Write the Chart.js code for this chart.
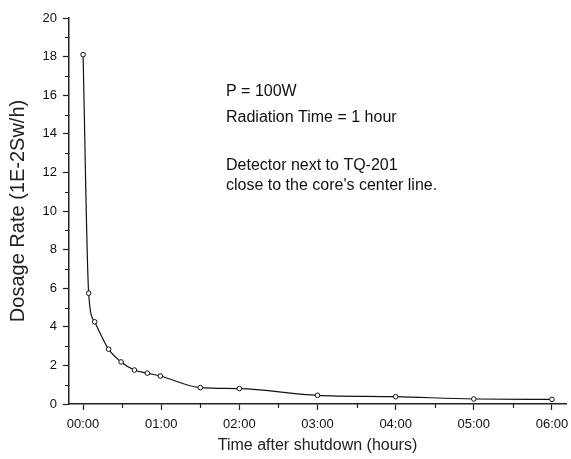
<!DOCTYPE html>
<html><head><meta charset="utf-8">
<script src="https://cdn.jsdelivr.net/npm/chart.js@4.4.1/dist/chart.umd.min.js"></script>
<style>html,body{margin:0;padding:0;background:#fff;}canvas{display:block}</style>
</head><body>
<canvas id="c" width="571" height="459"></canvas>
<script>
// Data
const timesMin = [0, 4.3, 8.9, 19.6, 29.2, 39.4, 49.3, 59.3, 90, 120, 180, 240, 300, 360];
const dose = [18.1, 5.74, 4.26, 2.84, 2.18, 1.76, 1.6, 1.45, 0.85, 0.8, 0.45, 0.38, 0.26, 0.24];
const xTickLabels = ['00:00', '01:00', '02:00', '03:00', '04:00', '05:00', '06:00'];
const xMinorTicks = [0.5, 1.5, 2.5, 3.5, 4.5, 5.5];
const yMinorTicks = [1, 3, 5, 7, 9, 11, 13, 15, 17, 19];
const noteLines = ['P = 100W', 'Radiation Time = 1 hour', 'Detector next to TQ-201', "close to the core's center line."];
const xTitle = 'Time after shutdown (hours)';
const yTitle = 'Dosage Rate (1E-2Sw/h)';

const FONT = '"Liberation Sans", Arial, sans-serif';
const points = timesMin.map((m, i) => ({ x: m / 60, y: dose[i] }));

const extras = {
  id: 'extras',
  afterDraw(chart) {
    const { ctx, scales: { x, y } } = chart;
    ctx.save();
    ctx.strokeStyle = '#222';
    ctx.lineWidth = 1.2;
    ctx.beginPath();
    xMinorTicks.forEach(v => {
      const px = Math.round(x.getPixelForValue(v)) + 0.5;
      ctx.moveTo(px, y.bottom); ctx.lineTo(px, y.bottom + 4);
    });
    yMinorTicks.forEach(v => {
      const py = Math.round(y.getPixelForValue(v)) + 0.5;
      ctx.moveTo(x.left, py); ctx.lineTo(x.left - 4, py);
    });
    ctx.stroke();
    ctx.fillStyle = '#111';
    ctx.font = '16px ' + FONT;
    ctx.textBaseline = 'alphabetic';
    ctx.textAlign = 'left';
    const nx = chart.chartArea.left + 157;
    const offs = [78, 104, 152, 172];
    noteLines.forEach((t, i) => ctx.fillText(t, nx, chart.chartArea.top + offs[i]));
    ctx.restore();
  }
};

new Chart(document.getElementById('c'), {
  type: 'line',
  data: {
    datasets: [{
      data: points,
      borderColor: '#111',
      borderWidth: 1.2,
      cubicInterpolationMode: 'monotone',
      pointRadius: 2.3,
      pointBorderWidth: 1,
      pointBackgroundColor: '#fff',
      pointBorderColor: '#111',
      fill: false
    }]
  },
  options: {
    responsive: false,
    animation: false,
    devicePixelRatio: 1,
    layout: { padding: { top: 18, right: 1, bottom: 0, left: 0 } },
    plugins: { legend: { display: false }, tooltip: { enabled: false } },
    scales: {
      x: {
        type: 'linear', min: -0.18, max: 6.18,
        ticks: {
          stepSize: 1, includeBounds: false, autoSkip: false, maxRotation: 0,
          callback: v => (Number.isInteger(v) && xTickLabels[v]) ? xTickLabels[v] : '',
          font: { size: 13, family: FONT }, color: '#111', padding: 7
        },
        grid: { drawOnChartArea: false, drawTicks: true, tickLength: 6, tickColor: '#222', tickWidth: 1.2 },
        border: { color: '#222', width: 1.5 },
        title: { display: true, text: xTitle, font: { size: 16, family: FONT }, color: '#222', padding: { top: 0, bottom: 4 } },
        afterFit: s => { s.height = 55; s.paddingLeft = 0; s.paddingRight = 0; }
      },
      y: {
        min: 0, max: 20,
        ticks: { stepSize: 2, font: { size: 13, family: FONT }, color: '#111', padding: 6 },
        grid: { drawOnChartArea: false, drawTicks: true, tickLength: 6, tickColor: '#222', tickWidth: 1.2 },
        border: { color: '#222', width: 1.5 },
        title: { display: true, text: yTitle, font: { size: 20, family: FONT }, color: '#222', padding: { top: 6, bottom: 0 } },
        afterFit: s => { s.width = 69; s.paddingTop = 0; s.paddingBottom = 0; }
      }
    }
  },
  plugins: [extras]
});
</script>
</body></html>
